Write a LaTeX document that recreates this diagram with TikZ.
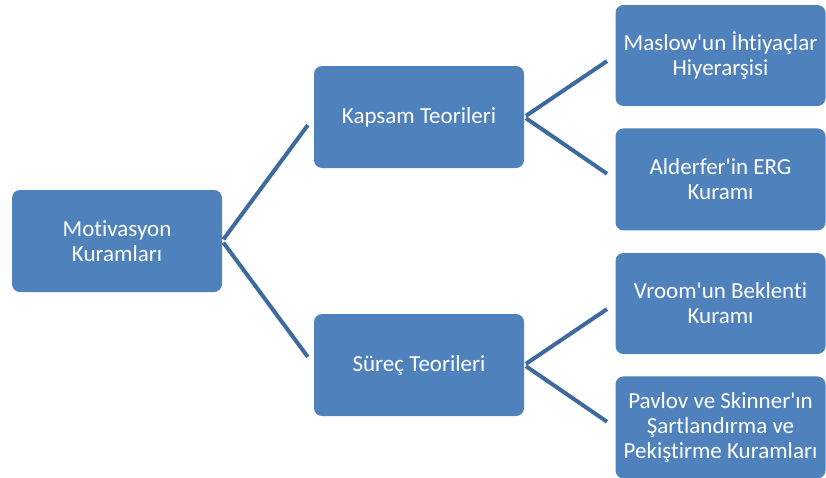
\documentclass[tikz,border=0pt]{standalone}
\usepackage{fontspec}
\setmainfont{Carlito}[Ligatures=NoCommon]
\usetikzlibrary{positioning}
\definecolor{boxblue}{HTML}{4F81BD}
\definecolor{lineblue}{HTML}{3D6A9F}
\newcommand{\apos}{\textquotesingle}
\begin{document}
\begin{tikzpicture}[
		x = 1pt, y = -1pt,
		box/.style = {fill=boxblue, rounded corners=8pt, minimum width=210pt,
			minimum height=102pt, align=center, text=white,
			inner sep=1pt, font=\fontsize{23}{25}\selectfont},
		link/.style = {draw=lineblue, line width=4pt, shorten < = 2pt, shorten > = 10pt}
		]
		\useasboundingbox (0,0) rectangle (826,477);
		
		\node[box] (mot) at (117,241) {Motivasyon\\Kuramları};
		\node[box] (kap) at (419,117) {Kapsam Teorileri};
		\node[box] (sur) at (419,365) {Süreç Teorileri};
		\node[box, minimum height=101pt] (mas) at (720.5,55.5) {Maslow\apos un İhtiyaçlar\\Hiyerarşisi};
		\node[box] (ald) [below=22pt of mas] {Alderfer\apos in ERG\\Kuramı};
		\node[box, minimum height=101pt] (vro) at (720.5,303.5) {Vroom\apos un Beklenti\\Kuramı};
		\node[box] (pav) [below=22pt of vro] {Pavlov ve Skinner\apos ın\\Şartlandırma ve\\Pekiştirme Kuramları};
		
		\path[link]
		(mot.east) edge (kap.west)
		(mot.east) edge (sur.west)
		(kap.east) edge (mas.west)
		(kap.east) edge (ald.west)
		(sur.east) edge (vro.west)
		(sur.east) edge (pav.west);
	\end{tikzpicture}
\end{document}
